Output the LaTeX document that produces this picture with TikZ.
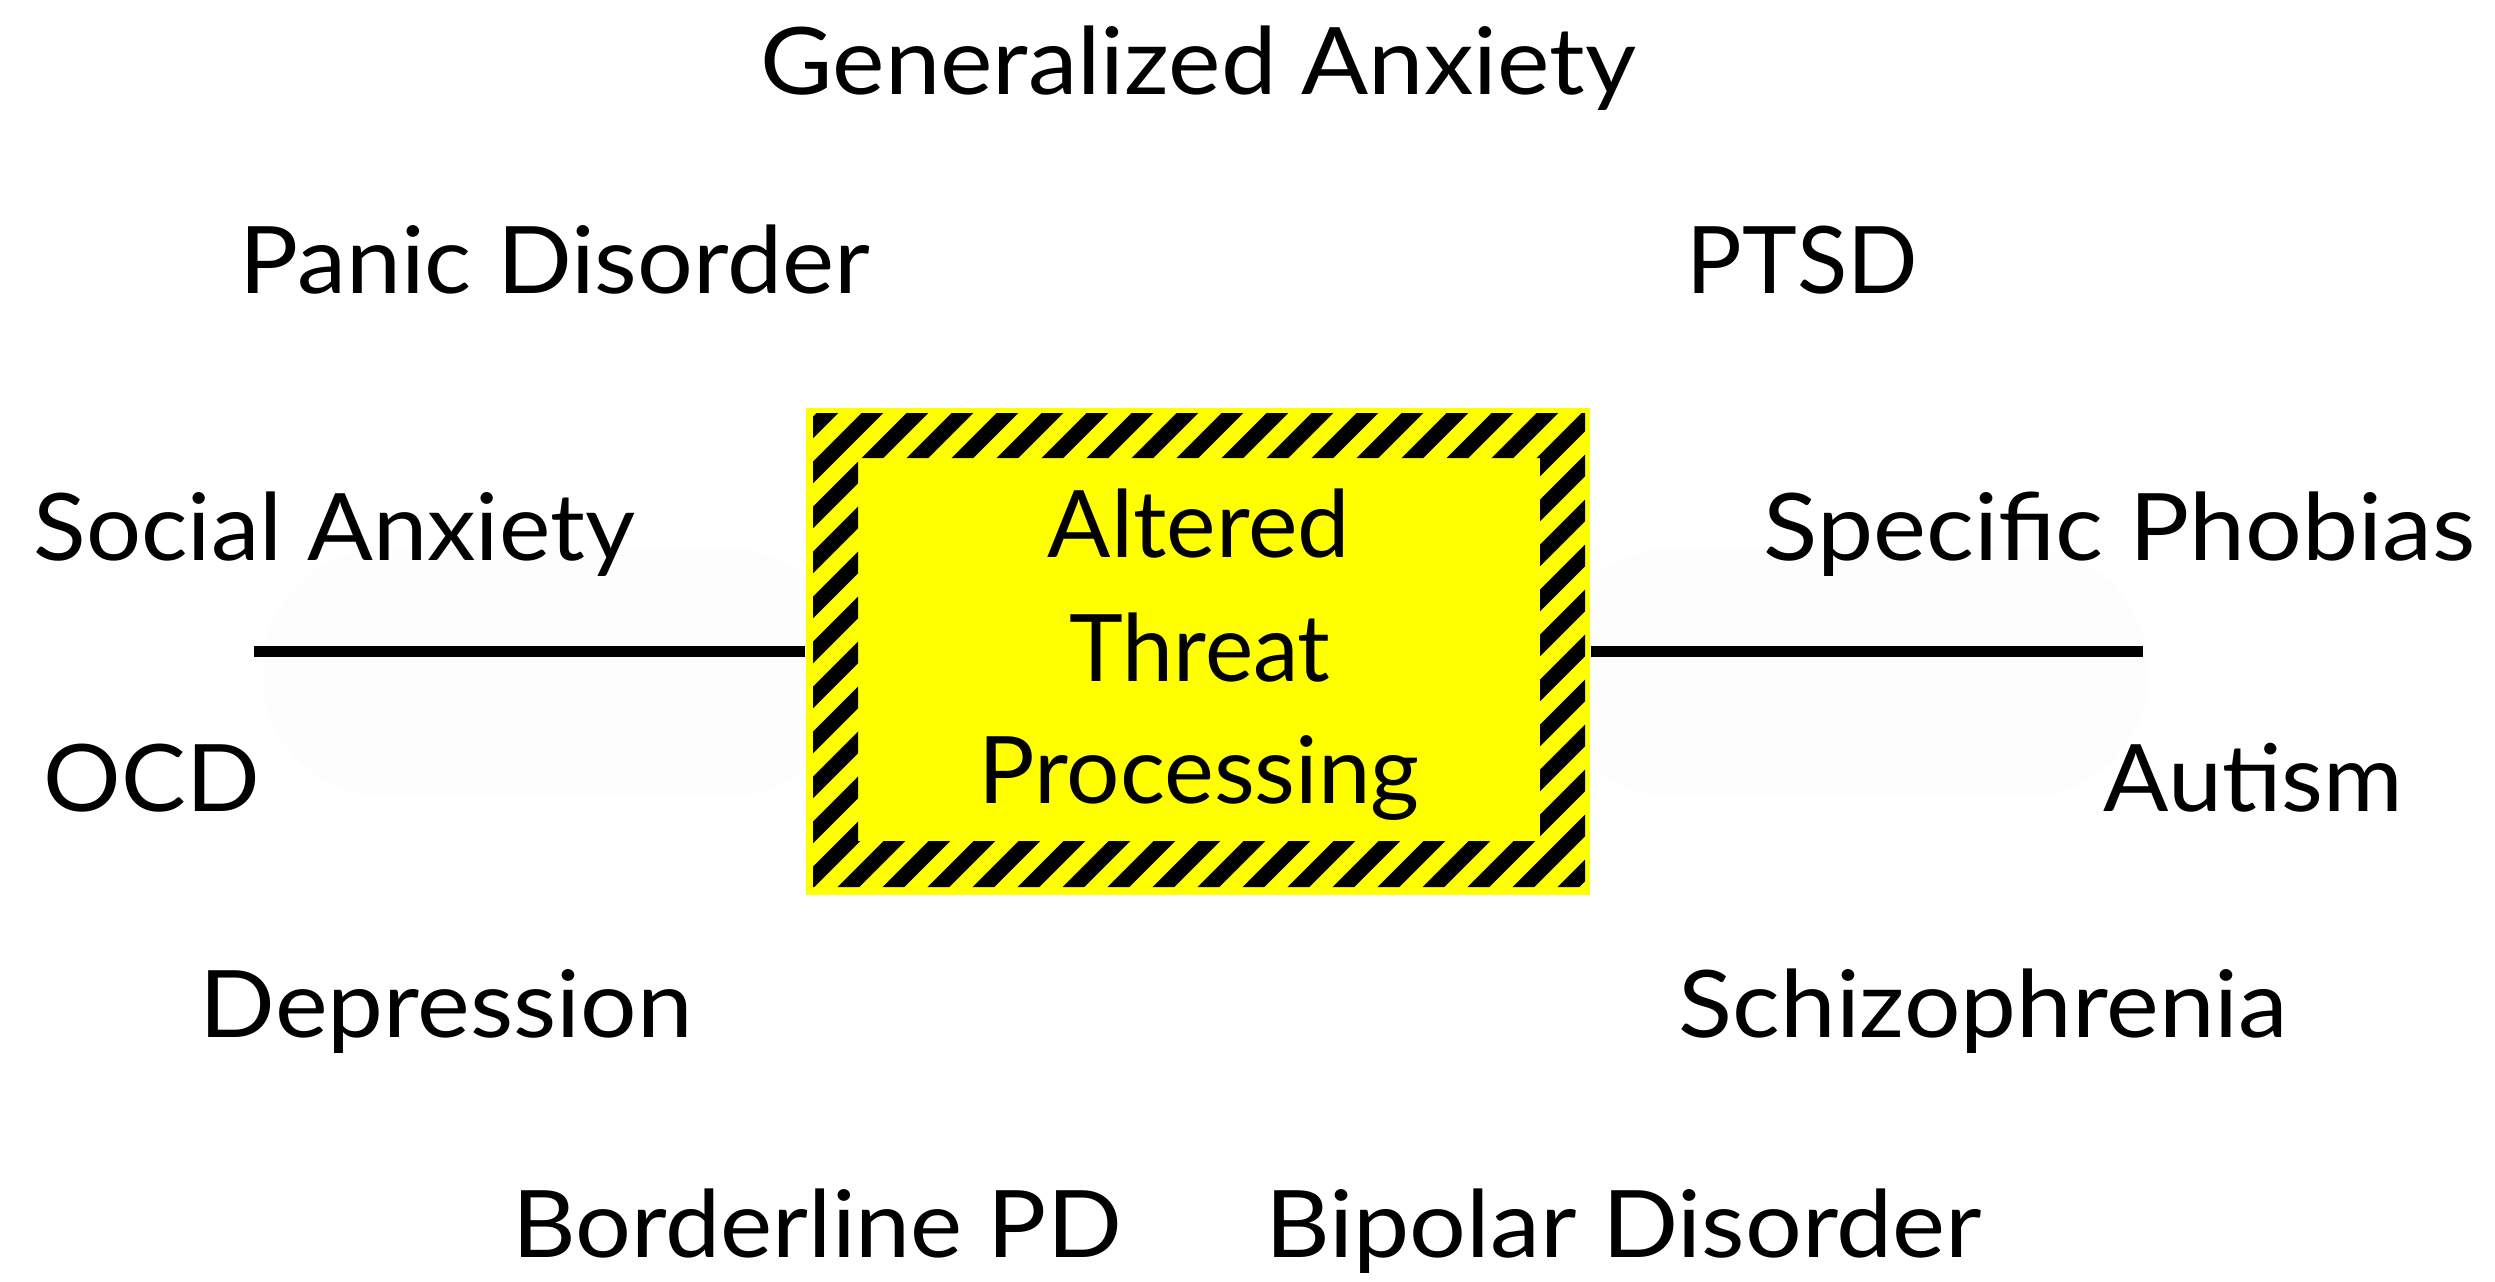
\documentclass[tikz,border=0pt]{standalone}
\usepackage{fontspec}
\setmainfont{Lato}
\usepackage{graphicx}
\newlength\fitlen
\newcommand\fitw[2]{\settowidth\fitlen{#2}\pgfmathsetmacro\fitratio{#1/\fitlen}\scalebox{\fitratio}[1]{#2}}
\definecolor{hazyellow}{HTML}{FFFF00}
\tikzset{
  lbl/.style={anchor=base west, inner sep=0pt, font=\fontsize{26.5}{32}\selectfont},
  boxlbl/.style={anchor=base, inner sep=0pt, font=\fontsize{26.5}{32}\selectfont},
  hazard/.style={rectangle, fill=hazyellow, draw=none, inner sep=0pt, minimum width=7.84cm, minimum height=4.87cm},
  stripe/.style={line width=4.4pt, black},
  conn/.style={line width=2.9pt, black},
  halo/.style={fill=black!0.8, draw=none, rounded corners=1.2cm}
}
\begin{document}
\begin{tikzpicture}[x=0.01cm, y=-0.01cm]
\useasboundingbox (0,0) rectangle (2495,1281);
% faint halos
\fill[halo] (263,549) rectangle (850,796);
\fill[halo] (1550,549) rectangle (2148,796);
% central box
\node[hazard] (box) at (1198,651.5) {};
\begin{scope}[even odd rule]
  \clip (813,413) rectangle (1585,887) (858,458) rectangle (1540,841);
  \foreach \k in {26,...,56}{
    \draw[stripe] ({25.5+45*\k-380},380) -- ({25.5+45*\k-900},900);
  }
\end{scope}
\node[boxlbl] (t1) at (1199,557) {\fitw{3.02cm}{Altered}};
\node[boxlbl] (t2) at (1200,681) {\fitw{2.61cm}{Threat}};
\node[boxlbl] (t3) at (1199,803) {\fitw{4.41cm}{Processing}};
% connectors
\coordinate (lend) at (254,651.5);
\coordinate (rend) at (2143,651.5);
\draw[conn] (lend) -- (box.west);
\draw[conn] (box.east) -- (rend);
% labels
\node[lbl] (ga) at (760,94) {\fitw{8.75cm}{Generalized Anxiety}};
\node[lbl] (pd) at (239,293) {\fitw{6.30cm}{Panic Disorder}};
\node[lbl] (ptsd) at (1686,293) {\fitw{2.31cm}{PTSD}};
\node[lbl] (sa) at (33,560) {\fitw{6.01cm}{Social Anxiety}};
\node[lbl] (sp) at (1763,560) {\fitw{7.11cm}{Specific Phobias}};
\node[lbl] (ocd) at (43,811) {\fitw{2.16cm}{OCD}};
\node[lbl] (aut) at (2103,811) {\fitw{2.99cm}{Autism}};
\node[lbl] (dep) at (199,1037) {\fitw{4.93cm}{Depression}};
\node[lbl] (sch) at (1678,1037) {\fitw{6.09cm}{Schizophrenia}};
\node[lbl] (bpd) at (512,1257) {\fitw{6.09cm}{Borderline PD}};
\node[lbl] (bip) at (1265,1257) {\fitw{7.16cm}{Bipolar Disorder}};
\end{tikzpicture}
\end{document}
